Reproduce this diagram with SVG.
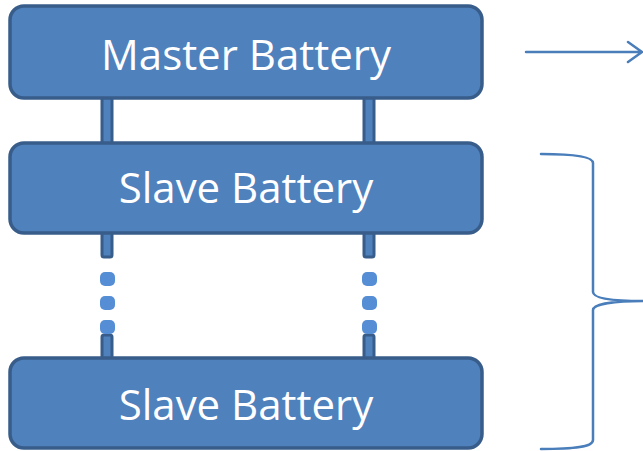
<svg xmlns="http://www.w3.org/2000/svg" width="643" height="451" viewBox="0 0 643 451">
<style>
.box{fill:#4f81bd;stroke:#385d8a;stroke-width:3.5}
.bar{fill:#4f81bd;stroke:#385d8a;stroke-width:3}
.dot{fill:#558ed5}
.lbl{font-family:"Open Sans",sans-serif;font-size:42px;fill:#fff;text-anchor:middle}
.ln{fill:none;stroke:#4a7ebb;stroke-width:2.5;stroke-linecap:round;stroke-linejoin:round}
</style>
<g id="connectors">
<rect class="bar" x="102" y="97" width="10" height="47"/>
<rect class="bar" x="364" y="97" width="10" height="47"/>
<rect class="bar" x="102" y="232" width="10" height="25" rx="2"/>
<rect class="bar" x="364" y="232" width="10" height="25" rx="2"/>
<rect class="bar" x="102" y="335" width="10" height="24" rx="2"/>
<rect class="bar" x="364" y="335" width="10" height="24" rx="2"/>
<rect class="dot" x="100" y="272" width="15" height="14" rx="5"/>
<rect class="dot" x="100" y="296" width="15" height="14" rx="5"/>
<rect class="dot" x="100" y="320" width="15" height="14" rx="5"/>
<rect class="dot" x="362" y="272" width="15" height="14" rx="5"/>
<rect class="dot" x="362" y="296" width="15" height="14" rx="5"/>
<rect class="dot" x="362" y="320" width="15" height="14" rx="5"/>
<path class="ln" d="M526,52 L642,52 M628,42 L642,52 L628,62"/>
<path class="ln" d="M541,154 C575,154 593,157 593,163 L593,292 C593,299 615,301 643,301 C615,301 593,304 593,310 L593,440 C593,447 575,449 541,449"/>
</g>
<g id="master">
<rect class="box" x="10" y="6" width="472" height="92" rx="14"/>
<text class="lbl" x="246" y="70">Master Battery</text>
</g>
<g id="slave1">
<rect class="box" x="10" y="143" width="472" height="90" rx="14"/>
<text class="lbl" x="246" y="203">Slave Battery</text>
</g>
<g id="slave2">
<rect class="box" x="10" y="358" width="472" height="90" rx="14"/>
<text class="lbl" x="246" y="420">Slave Battery</text>
</g>
</svg>
